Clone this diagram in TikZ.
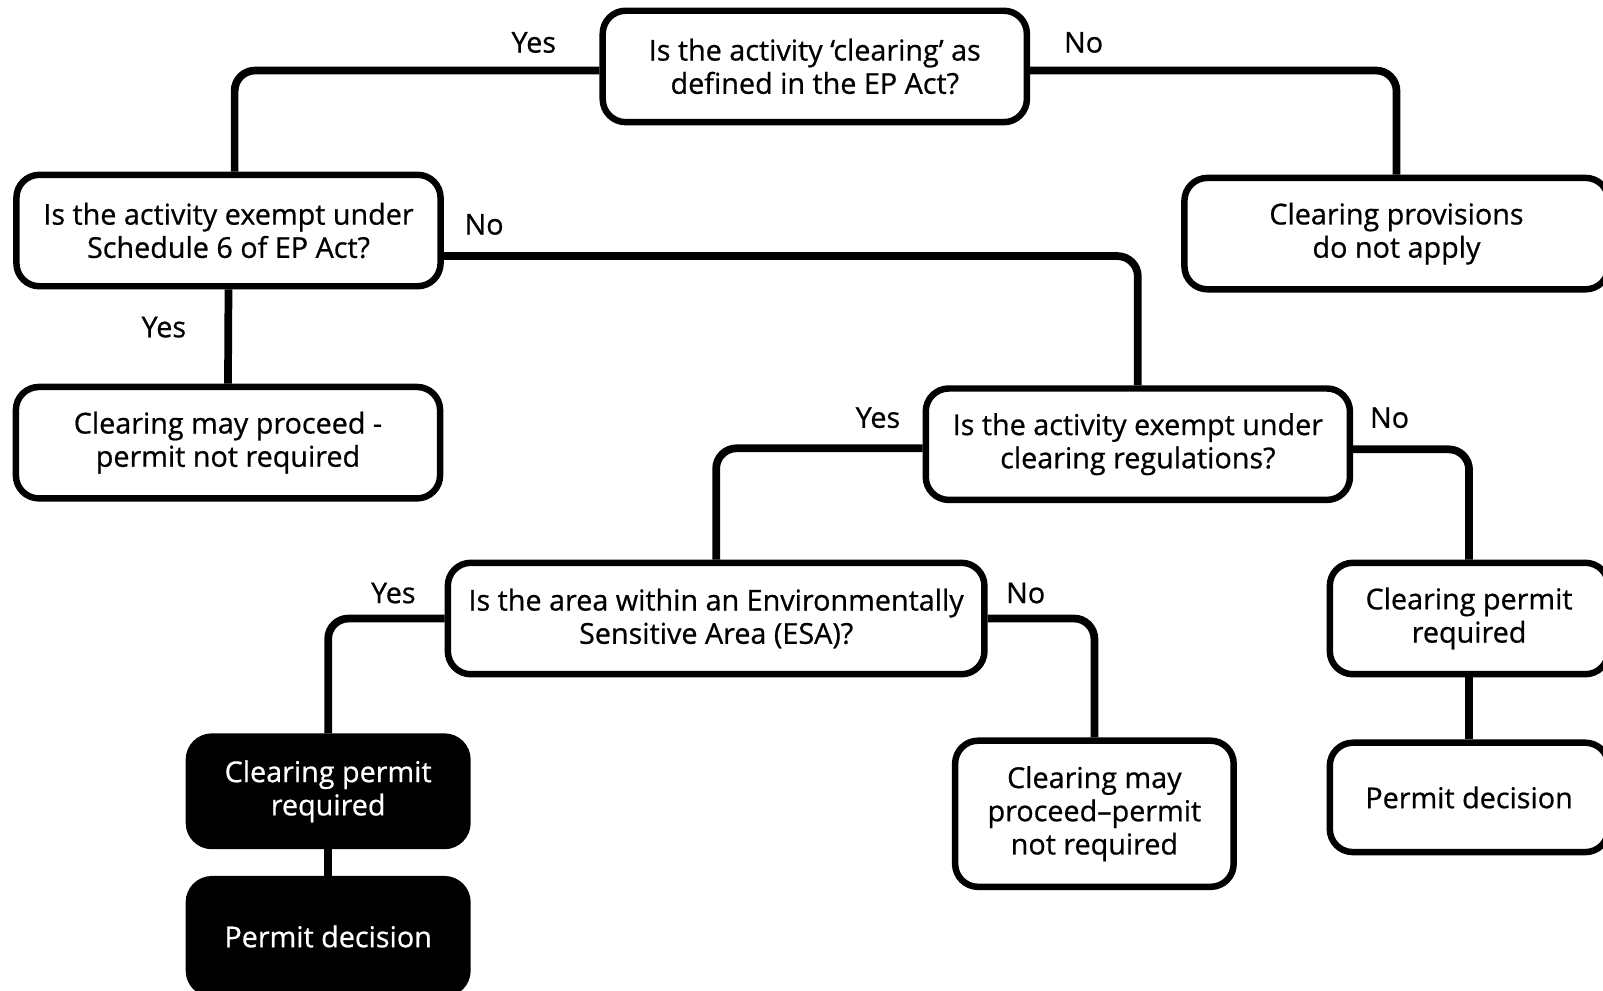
\documentclass[tikz,border=0pt]{standalone}
\usepackage{fontspec}
\setmainfont{Open Sans}[BoldFont={Open Sans},BoldFeatures={FakeBold=0.7}]
\usepackage{tikz}
\newcommand{\nodewidth}{8.3cm}
\newcommand{\nodeheight}{2.18cm}
\usetikzlibrary{positioning}
\tikzset{
  font=\fontsize{16}{18.5}\selectfont\bfseries,
  box/.style={draw,fill=white,shape=rectangle,rounded corners=0.45cm,line width=3.6pt,minimum width=\nodewidth,minimum height=\nodeheight,align=center,inner sep=1mm},
  widebox/.style={box,minimum width=10.5cm},
  smallbox/.style={box,minimum width=5.45cm},
  darkbox/.style={smallbox,fill=black,text=white},
  line/.style={draw,line width=4.3pt,rounded corners=0.4cm},
  lbl/.style={inner sep=0pt,above=0.27cm}
}

\begin{document}
\begin{tikzpicture}[x=0.02cm,y=-0.02cm]
    \clip (0,0) rectangle (1568,969);

    % questions
    \node (q1) [box] at (797,65) {Is the activity `clearing' as\\defined in the EP Act?};
    \node (q2) [box] at (223.5,225.5) {Is the activity exempt under\\Schedule 6 of EP Act?};
    \node (q3) [box] at (1113,434.5) {Is the activity exempt under\\clearing regulations?};
    \node (q4) [widebox] at (700.5,605) {Is the area within an Environmentally\\Sensitive Area (ESA)?};

    % outcomes
    \node (provisions) [box] at (1366,228.5) {Clearing provisions\\do not apply};
    \node (proceed1) [box] at (223,433) {Clearing may proceed -\\permit not required};
    \node (permit1) [smallbox] at (1437,605) {Clearing permit\\required};
    \node (decision1) [smallbox,minimum height=2.14cm] at (1437,780) {Permit decision};
    \node (proceed2) [smallbox,minimum height=2.86cm] at (1070.5,796) {Clearing may\\proceed--permit\\not required};
    \node (permit2) [darkbox,minimum height=2.14cm] at (321,774) {Clearing permit\\required};
    \node (decision2) [darkbox,minimum height=2.24cm] at (321,916) {Permit decision};

    \path [line] ([yshift=-0.08cm]q1.west) -| ([xshift=0.12cm]q2.north) node[lbl,pos=0.09] {Yes};
    \path [line] ([yshift=-0.08cm]q1.east) -| (provisions.north) node[lbl,pos=0.073] {No};
    \path [line] ([yshift=-0.5cm]q2.east) -| (q3.north) node[lbl,pos=0.029,above=0.34cm] {No};
    \path [line] (q2.south) -- (proceed1.north) node[inner sep=0pt,left=0.75cm,pos=0.4] {Yes};
    \path [line] ([yshift=-0.08cm]q3.west) -| (q4.north) node[lbl,pos=0.108,above=0.32cm] {Yes};
    \path [line] ([yshift=-0.1cm]q3.east) -| (permit1.north) node[lbl,pos=0.157,above=0.34cm] {No};
    \path [line] (q4.west) -| (permit2.north) node[lbl,pos=0.22,above=0.22cm] {Yes};
    \path [line] (q4.east) -| (proceed2.north) node[lbl,pos=0.178,above=0.22cm] {No};
    \path [line] (permit1.south) -- (decision1.north);
    \path [line] (permit2.south) -- (decision2.north);
\end{tikzpicture}
\end{document}
